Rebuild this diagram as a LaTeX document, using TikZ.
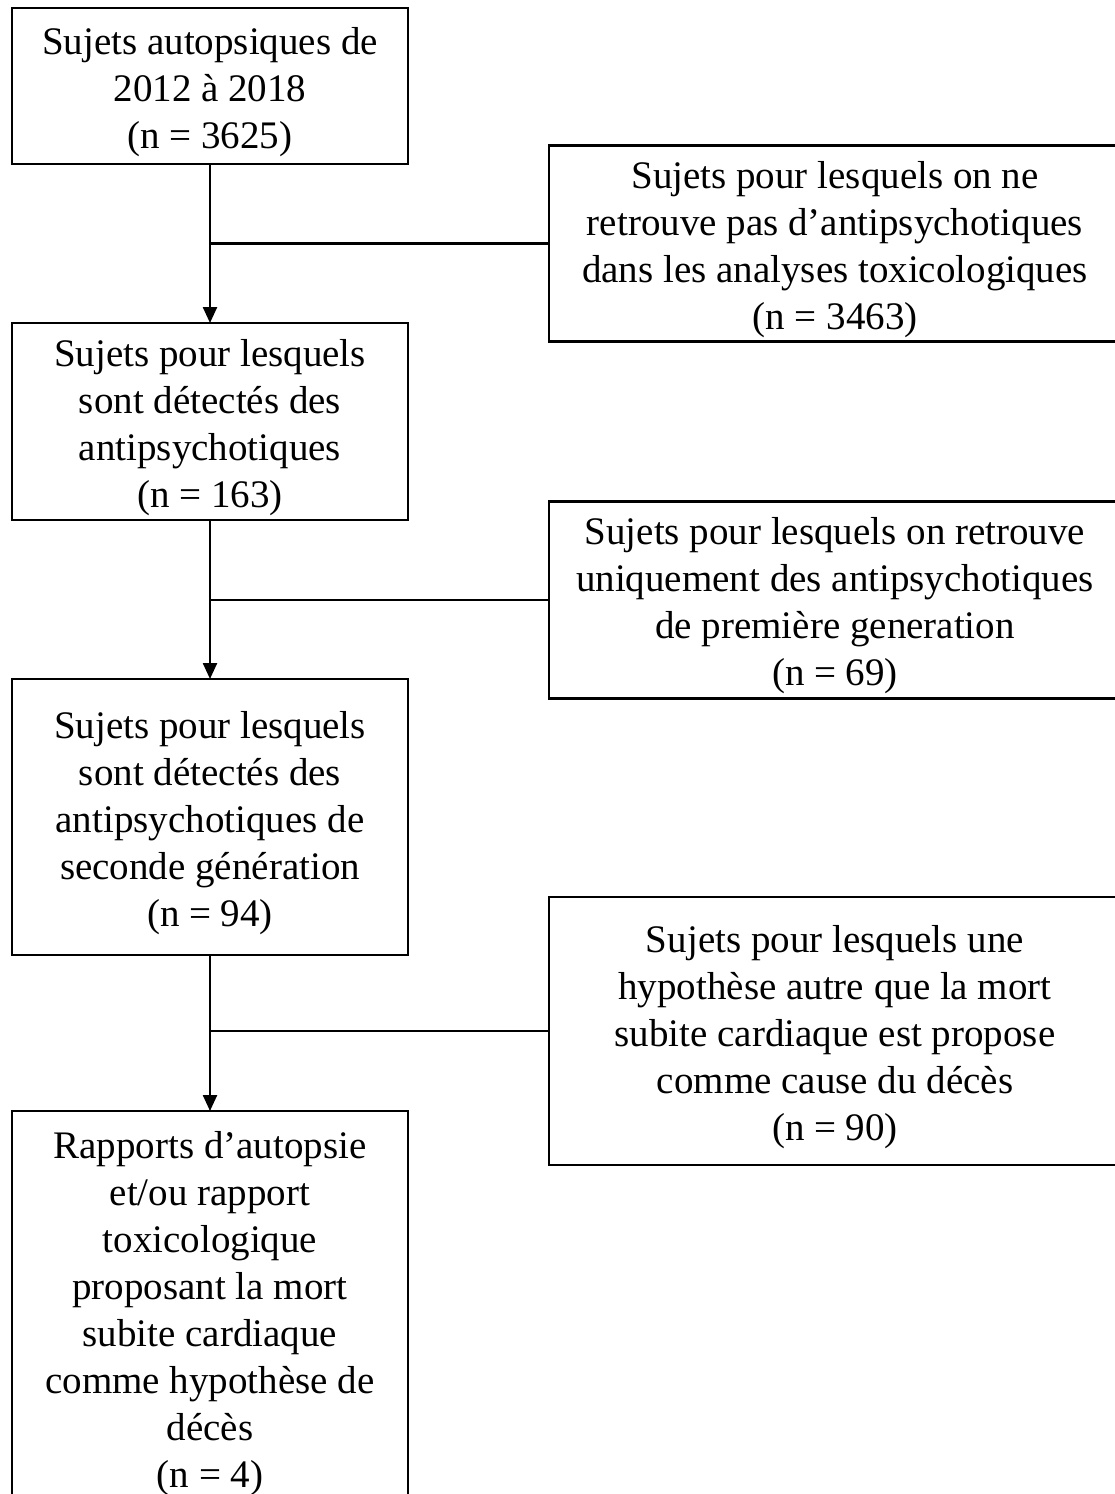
\documentclass[tikz,border=0pt]{standalone}
\usepackage{fontspec}
\setmainfont{Liberation Serif}
\usetikzlibrary{arrows.meta,positioning}
\newcommand{\topgap}{\rule{0pt}{39pt}}

\begin{document}
\begin{tikzpicture}[x=1pt, y=-1pt,
    box/.style={rectangle, draw, line width=2.8pt, outer sep=0pt, minimum width=396pt, align=center, font=\fontsize{39}{47}\selectfont, inner sep=4pt},
    sidebox/.style={box, minimum width=572pt},
    arrow/.style={-{Triangle[length=16pt, width=14pt]}, line width=2.4pt},
    branch/.style={line width=2.4pt},
]
\useasboundingbox (0,0) rectangle (1114,1494);
\node[box, minimum height=156pt] (all) at (210,86) {\topgap Sujets autopsiques de\\2012 à 2018\\(n = 3625)};
\node[box, minimum height=197pt, below=159pt of all] (ap) {\topgap Sujets pour lesquels\\sont détectés des\\antipsychotiques\\(n = 163)};
\node[box, minimum height=276pt, below=159pt of ap] (sga) {\topgap Sujets pour lesquels\\sont détectés des\\antipsychotiques de\\seconde génération\\(n = 94)};
\node[box, minimum height=394pt, below=156pt of sga] (msc) {\topgap Rapports d’autopsie\\et/ou rapport\\toxicologique\\proposant la mort\\subite cardiaque\\comme hypothèse de\\décès\\(n = 4)};
\node[sidebox, minimum height=195pt] (noap) at (835,243.5) {\topgap Sujets pour lesquels on ne\\retrouve pas d’antipsychotiques\\dans les analyses toxicologiques\\(n = 3463)};
\node[sidebox, minimum height=189pt] (fga) at (835,600) {\topgap Sujets pour lesquels on retrouve\\uniquement des antipsychotiques\\de première generation\\(n = 69)};
\node[sidebox, minimum height=268pt] (other) at (835,1031) {\topgap Sujets pour lesquels une\\hypothèse autre que la mort\\subite cardiaque est propose\\comme cause du décès\\(n = 90)};
\coordinate (j1) at (all.south |- noap.west);
\coordinate (j2) at (ap.south |- fga.west);
\coordinate (j3) at (sga.south |- other.west);
\draw[arrow] (all) -- (ap);
\draw[arrow] (ap) -- (sga);
\draw[arrow] (sga) -- (msc);
\draw[branch] (j1) -- (noap.west);
\draw[branch] (j2) -- (fga.west);
\draw[branch] (j3) -- (other.west);
\end{tikzpicture}
\end{document}
